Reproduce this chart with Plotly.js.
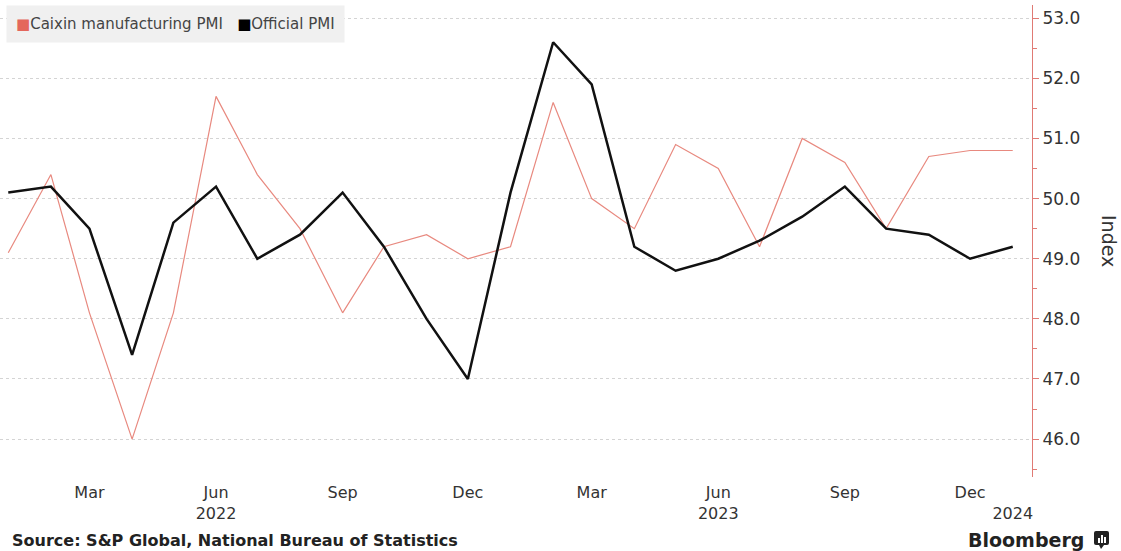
<!DOCTYPE html>
<html>
<head>
<meta charset="utf-8">
<script src="https://cdn.plot.ly/plotly-3.0.1.min.js"></script>
<style>
html,body{margin:0;padding:0;background:#fff;}
#chart{width:1121px;height:551px;}
</style>
</head>
<body>
<div id="chart"></div>
<script>
const months = ["2022-01-01","2022-02-01","2022-03-01","2022-04-01","2022-05-01","2022-06-01","2022-07-01","2022-08-01","2022-09-01","2022-10-01","2022-11-01","2022-12-01","2023-01-01","2023-02-01","2023-03-01","2023-04-01","2023-05-01","2023-06-01","2023-07-01","2023-08-01","2023-09-01","2023-10-01","2023-11-01","2023-12-01","2024-01-01"];
const caixinPMI = [49.1,50.4,48.1,46.0,48.1,51.7,50.4,49.5,48.1,49.2,49.4,49.0,49.2,51.6,50.0,49.5,50.9,50.5,49.2,51.0,50.6,49.5,50.7,50.8,50.8];
const officialPMI = [50.1,50.2,49.5,47.4,49.6,50.2,49.0,49.4,50.1,49.2,48.0,47.0,50.1,52.6,51.9,49.2,48.8,49.0,49.3,49.7,50.2,49.5,49.4,49.0,49.2];
const tickDates = ["2022-03-01","2022-06-01","2022-09-01","2022-12-01","2023-03-01","2023-06-01","2023-09-01","2023-12-01","2024-01-01"];
const tickLabels = ["Mar","Jun<br>2022","Sep","Dec","Mar","Jun<br>2023","Sep","Dec"," <br>2024"];
const seriesNames = ["Caixin manufacturing PMI","Official PMI"];
const sourceText = "Source: S&P Global, National Bureau of Statistics";

const caixinColor = "#e8897f";
const caixinLegend = "#e4675c";
const officialColor = "#111111";

const traces = [
  {x: months, y: caixinPMI, name: seriesNames[0], mode: "lines", line: {color: caixinColor, width: 1.2}, hoverinfo: "x+y"},
  {x: months, y: officialPMI, name: seriesNames[1], mode: "lines", line: {color: officialColor, width: 2.5}, hoverinfo: "x+y"}
];

const legendText =
  "<span style='color:" + caixinLegend + "'>■</span>" + seriesNames[0] +
  "   <span style='color:#000'>■</span>" + seriesNames[1];

const layout = {
  width: 1121, height: 551,
  margin: {l: 0, r: 89, t: 5, b: 74},
  paper_bgcolor: "#fff", plot_bgcolor: "#fff",
  font: {family: "DejaVu Sans, Verdana, sans-serif", color: "#333", size: 15},
  showlegend: false,
  xaxis: {
    type: "date",
    range: ["2021-12-26", "2024-01-15"],
    tickmode: "array", tickvals: tickDates, ticktext: tickLabels,
    showgrid: false, zeroline: false, showline: false, ticks: "",
    tickfont: {size: 16, color: "#333"},
    ticklabelstandoff: 4,
    fixedrange: true
  },
  yaxis: {
    side: "right",
    range: [45.37, 53.22],
    tickmode: "linear", tick0: 46, dtick: 1, tickformat: ".1f",
    showgrid: true, gridcolor: "#d4d4d4", griddash: "dot", gridwidth: 1,
    showline: true, linecolor: "#e07a74", linewidth: 1,
    ticks: "outside", ticklen: 6, tickcolor: "#e07a74",
    minor: {dtick: 0.5, ticks: "outside", ticklen: 4, tickcolor: "#e07a74", showgrid: false},
    tickfont: {size: 17, color: "#333"},
    zeroline: false, fixedrange: true
  },
  annotations: [
    {text: legendText, xref: "paper", yref: "paper", x: 0, xshift: 6, y: 1, yshift: 0, xanchor: "left", yanchor: "top",
     showarrow: false, bgcolor: "#f0f0f0", borderpad: 9, font: {size: 15, color: "#444"}},
    {text: "Index", textangle: 90, xref: "paper", yref: "paper", x: 1.062, y: 0.5, xanchor: "left", yanchor: "middle", showarrow: false, font: {size: 19, color: "#333"}},
    {text: "<b>" + sourceText + "</b>", xref: "paper", yref: "paper", x: 0, xshift: 10, y: 0, yshift: -63, xanchor: "left", yanchor: "middle", showarrow: false, font: {size: 16, color: "#222"}},
    {text: "<b>Bloomberg</b>", xref: "paper", yref: "paper", x: 1, xshift: 54, y: 0, yshift: -63, xanchor: "right", yanchor: "middle", showarrow: false, font: {size: 19, color: "#222"}}
  ]
};

Plotly.newPlot("chart", traces, layout, {displayModeBar: false, staticPlot: true}).then(function(){
  const svgs = document.querySelectorAll("#chart svg.main-svg");
  const svg = svgs[svgs.length - 1];
  const ns = "http://www.w3.org/2000/svg";
  const g = document.createElementNS(ns, "g");
  const r = document.createElementNS(ns, "rect");
  r.setAttribute("x", 1094); r.setAttribute("y", 531); r.setAttribute("width", 15); r.setAttribute("height", 14);
  r.setAttribute("rx", 2); r.setAttribute("fill", "#222");
  g.appendChild(r);
  [[1098,538,2,5],[1101,535,2,8],[1104,537,2,6]].forEach(function(b){
    const e = document.createElementNS(ns, "rect");
    e.setAttribute("x", b[0]); e.setAttribute("y", b[1]); e.setAttribute("width", b[2]); e.setAttribute("height", b[3]);
    e.setAttribute("fill", "#fff"); g.appendChild(e);
  });
  const t = document.createElementNS(ns, "polygon");
  t.setAttribute("points", "1099,545 1104,545 1101,549");
  t.setAttribute("fill", "#222"); g.appendChild(t);
  svg.appendChild(g);
});
</script>
</body>
</html>
